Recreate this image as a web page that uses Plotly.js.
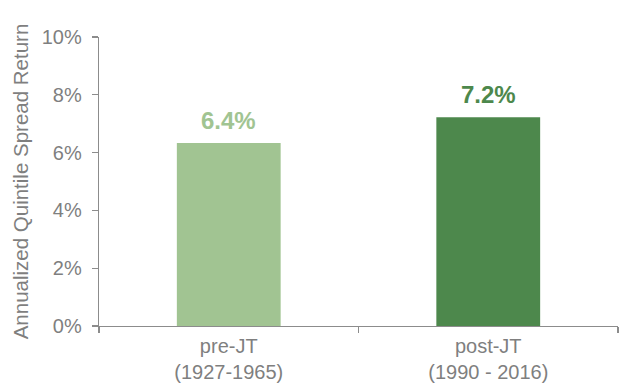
<!DOCTYPE html>
<html>
<head>
<meta charset="utf-8">
<script src="https://cdn.plot.ly/plotly-3.0.1.min.js"></script>
<style>
html,body{margin:0;padding:0;background:#fff;}
#chart{width:620px;height:383px;}
</style>
</head>
<body>
<div id="chart"></div>
<script>
const categories = ["pre-JT<br>(1927-1965)", "post-JT<br>(1990 - 2016)"];
const values = [6.33, 7.22];
const valueLabels = ["6.4%", "7.2%"];
const barColors = ["#a1c492", "#4d884c"];
const yTicks = [0, 2, 4, 6, 8, 10];

const FONT = "Liberation Sans, Arial, sans-serif";
const GREY = "#7f7f7f";
const AXIS = "#8c8c8c";

const trace = {
  type: "bar",
  x: categories,
  y: values,
  marker: {color: barColors},
  hoverinfo: "none"
};

const annotations = categories.map((c, i) => ({
  x: c, y: values[i], xref: "x", yref: "y",
  text: "<b>" + valueLabels[i] + "</b>",
  showarrow: false, yanchor: "bottom", yshift: 7,
  font: {family: FONT, size: 24, color: barColors[i]}
}));

const layout = {
  width: 620, height: 383,
  margin: {l: 99, r: 2, t: 37, b: 57, pad: 0},
  paper_bgcolor: "#fff", plot_bgcolor: "#fff",
  showlegend: false,
  bargap: 0.6,
  font: {family: FONT, size: 20, color: GREY},
  xaxis: {
    type: "category",
    showline: true, linecolor: AXIS, linewidth: 1.3,
    ticks: "outside", tickson: "boundaries", ticklen: 6, tickcolor: AXIS, tickwidth: 1.3,
    ticklabelstandoff: 2,
    tickfont: {family: FONT, size: 20, color: GREY},
    showgrid: false, zeroline: false
  },
  yaxis: {
    range: [0, 10],
    tickvals: yTicks,
    ticktext: yTicks.map(v => v + "%"),
    showline: true, linecolor: AXIS, linewidth: 1.3,
    ticks: "outside", ticklen: 6, tickcolor: AXIS, tickwidth: 1.3,
    ticklabelstandoff: 6,
    tickfont: {family: FONT, size: 20, color: GREY},
    showgrid: false, zeroline: false,
    title: {text: "Annualized Quintile Spread Return", font: {family: FONT, size: 20.5, color: GREY}, standoff: 7}
  },
  annotations: annotations
};

Plotly.newPlot("chart", [trace], layout, {staticPlot: true, displayModeBar: false});
</script>
</body>
</html>
